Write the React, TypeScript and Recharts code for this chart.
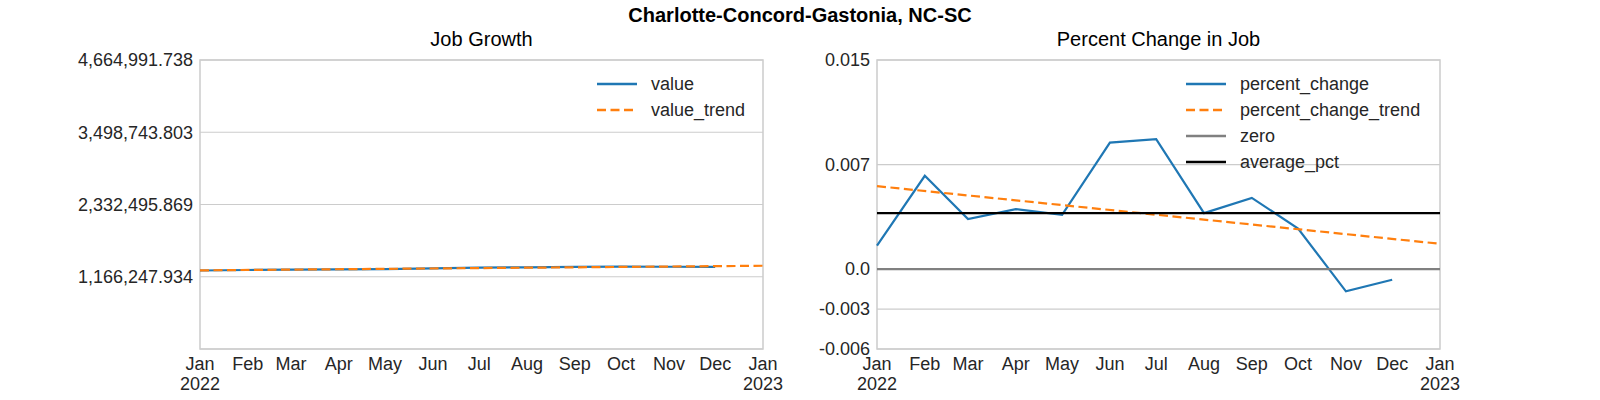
import React from 'react';
import { LineChart, Line, XAxis, YAxis, CartesianGrid, ReferenceArea, ReferenceLine } from 'recharts';

const monthLabels = ['Jan', 'Feb', 'Mar', 'Apr', 'May', 'Jun', 'Jul', 'Aug', 'Sep', 'Oct', 'Nov', 'Dec'];
const monthTicks = [
  Date.UTC(2022, 0, 1), Date.UTC(2022, 1, 1), Date.UTC(2022, 2, 1), Date.UTC(2022, 3, 1),
  Date.UTC(2022, 4, 1), Date.UTC(2022, 5, 1), Date.UTC(2022, 6, 1), Date.UTC(2022, 7, 1),
  Date.UTC(2022, 8, 1), Date.UTC(2022, 9, 1), Date.UTC(2022, 10, 1), Date.UTC(2022, 11, 1),
  Date.UTC(2023, 0, 1),
];

// job counts, Jan-Dec 2022
const jobValues = [1267000, 1275400, 1279900, 1285300, 1290300, 1301800, 1313800, 1319000, 1325600, 1329400, 1327300, 1326300];
// trend line end points (Jan 2022, Jan 2023)
const jobTrendEnds = [1269500, 1343500];
const jobTicks = [1166247.934, 2332495.869, 3498743.803, 4664991.738];
const jobMin = 0;

// month over month percent change
const pctValues = [0.00165, 0.0066, 0.00354, 0.00424, 0.00384, 0.00895, 0.00919, 0.00396, 0.00504, 0.00287, -0.00158, -0.00076];
const pctTrendEnds = [0.00587, 0.00179];
const avgPct = 0.00396;
const pctTicks = [-0.00566, -0.00283, 0, 0.0074, 0.0148];
const pctTickLabels = ['-0.006', '-0.003', '0.0', '0.007', '0.015'];

const BLUE = '#1f77b4';
const ORANGE = '#ff7f0e';
const GRID = '#cccccc';
const TEXT = '#262626';
const FONT = '"Liberation Sans", Arial, Helvetica, sans-serif';

const jobRows = monthTicks.map((t, i) => ({
  date: t,
  value: i < jobValues.length ? jobValues[i] : null,
  value_trend: i === 0 ? jobTrendEnds[0] : i === monthTicks.length - 1 ? jobTrendEnds[1] : null,
}));

const pctRows = monthTicks.map((t, i) => ({
  date: t,
  percent_change: i < pctValues.length ? pctValues[i] : null,
  percent_change_trend: i === 0 ? pctTrendEnds[0] : i === monthTicks.length - 1 ? pctTrendEnds[1] : null,
}));

const DateTick = ({ x, y, payload }: any) => {
  const d = new Date(payload.value);
  const m = d.getUTCMonth();
  return (
    <text x={x} y={y} textAnchor="middle" fontSize={18} fill={TEXT}>
      <tspan x={x} dy={13}>{monthLabels[m]}</tspan>
      {m === 0 && <tspan x={x} dy={20}>{d.getUTCFullYear()}</tspan>}
    </text>
  );
};

const LegendBox = ({ left, items }: { left: number; items: { name: string; color: string; dash?: boolean }[] }) => (
  <div style={{ position: 'absolute', left, top: 71 }}>
    {items.map((it) => (
      <div key={it.name} style={{ height: 26, display: 'flex', alignItems: 'center', fontSize: 18, color: TEXT }}>
        <svg width={40} height={6} style={{ marginRight: 14 }}>
          <line x1={0} y1={3} x2={40} y2={3} stroke={it.color} strokeWidth={2.5}
            strokeDasharray={it.dash ? '9 4.5' : undefined} />
        </svg>
        <span>{it.name}</span>
      </div>
    ))}
  </div>
);

const xAxisProps = {
  dataKey: 'date',
  type: 'number' as const,
  domain: [monthTicks[0], monthTicks[monthTicks.length - 1]],
  ticks: monthTicks,
  interval: 0 as const,
  tick: <DateTick />,
  tickLine: false,
  axisLine: false,
  tickSize: 0,
  tickMargin: 8,
  height: 51,
};

const JobGrowthChart = () => (
  <LineChart width={800} height={400} data={jobRows} margin={{ top: 60, right: 37, bottom: 0, left: 10 }}>
    <CartesianGrid vertical={false} stroke={GRID} strokeWidth={1.2} />
    <XAxis {...xAxisProps} />
    <YAxis
      width={190}
      domain={[jobMin, jobTicks[jobTicks.length - 1]]}
      ticks={jobTicks}
      tickFormatter={(v: number) => v.toLocaleString('en-US', { minimumFractionDigits: 3, maximumFractionDigits: 3 })}
      tick={{ fontSize: 18, fill: TEXT }}
      tickLine={false}
      axisLine={false}
      tickSize={0}
      tickMargin={7}
    />
    <ReferenceArea x1={monthTicks[0]} x2={monthTicks[monthTicks.length - 1]} y1={jobMin} y2={jobTicks[jobTicks.length - 1]}
      fill="none" stroke={GRID} strokeWidth={1.5} />
    <Line dataKey="value" stroke={BLUE} strokeWidth={2.2} dot={false} isAnimationActive={false} />
    <Line dataKey="value_trend" stroke={ORANGE} strokeWidth={2.2} strokeDasharray="9 4.5" dot={false}
      connectNulls isAnimationActive={false} />
  </LineChart>
);

const PercentChart = () => (
  <LineChart width={800} height={400} data={pctRows} margin={{ top: 60, right: 160, bottom: 0, left: 7 }}>
    <CartesianGrid vertical={false} stroke={GRID} strokeWidth={1.2} />
    <XAxis {...xAxisProps} />
    <YAxis
      width={70}
      domain={[pctTicks[0], pctTicks[pctTicks.length - 1]]}
      ticks={pctTicks}
      tickFormatter={(v: number) => pctTickLabels[pctTicks.indexOf(v)]}
      tick={{ fontSize: 18, fill: TEXT }}
      tickLine={false}
      axisLine={false}
      tickSize={0}
      tickMargin={7}
    />
    <ReferenceArea x1={monthTicks[0]} x2={monthTicks[monthTicks.length - 1]} y1={pctTicks[0]} y2={pctTicks[pctTicks.length - 1]}
      fill="none" stroke={GRID} strokeWidth={1.5} />
    <Line dataKey="percent_change" stroke={BLUE} strokeWidth={2.2} dot={false} isAnimationActive={false} />
    <Line dataKey="percent_change_trend" stroke={ORANGE} strokeWidth={2.2} strokeDasharray="9 4.5" dot={false}
      connectNulls isAnimationActive={false} />
    <ReferenceLine y={0} stroke="#808080" strokeWidth={2.2} />
    <ReferenceLine y={avgPct} stroke="#000000" strokeWidth={2.2} />
  </LineChart>
);

export default function App() {
  return (
    <div style={{ position: 'absolute', left: 0, top: 0, width: 1600, height: 400, background: '#fff', fontFamily: FONT, color: TEXT }}>
      <div style={{ position: 'absolute', left: 0, width: 1600, top: 4, textAlign: 'center', fontSize: 20, fontWeight: 'bold', color: '#000' }}>
        Charlotte-Concord-Gastonia, NC-SC
      </div>
      <div style={{ position: 'absolute', left: 200, width: 563, top: 28, textAlign: 'center', fontSize: 20, color: '#000' }}>
        Job Growth
      </div>
      <div style={{ position: 'absolute', left: 877, width: 563, top: 28, textAlign: 'center', fontSize: 20, color: '#000' }}>
        Percent Change in Job
      </div>
      <div style={{ position: 'absolute', left: 0, top: 0 }}>
        <JobGrowthChart />
      </div>
      <div style={{ position: 'absolute', left: 800, top: 0 }}>
        <PercentChart />
      </div>
      <LegendBox left={597} items={[
        { name: 'value', color: BLUE },
        { name: 'value_trend', color: ORANGE, dash: true },
      ]} />
      <LegendBox left={1186} items={[
        { name: 'percent_change', color: BLUE },
        { name: 'percent_change_trend', color: ORANGE, dash: true },
        { name: 'zero', color: '#808080' },
        { name: 'average_pct', color: '#000000' },
      ]} />
    </div>
  );
}
